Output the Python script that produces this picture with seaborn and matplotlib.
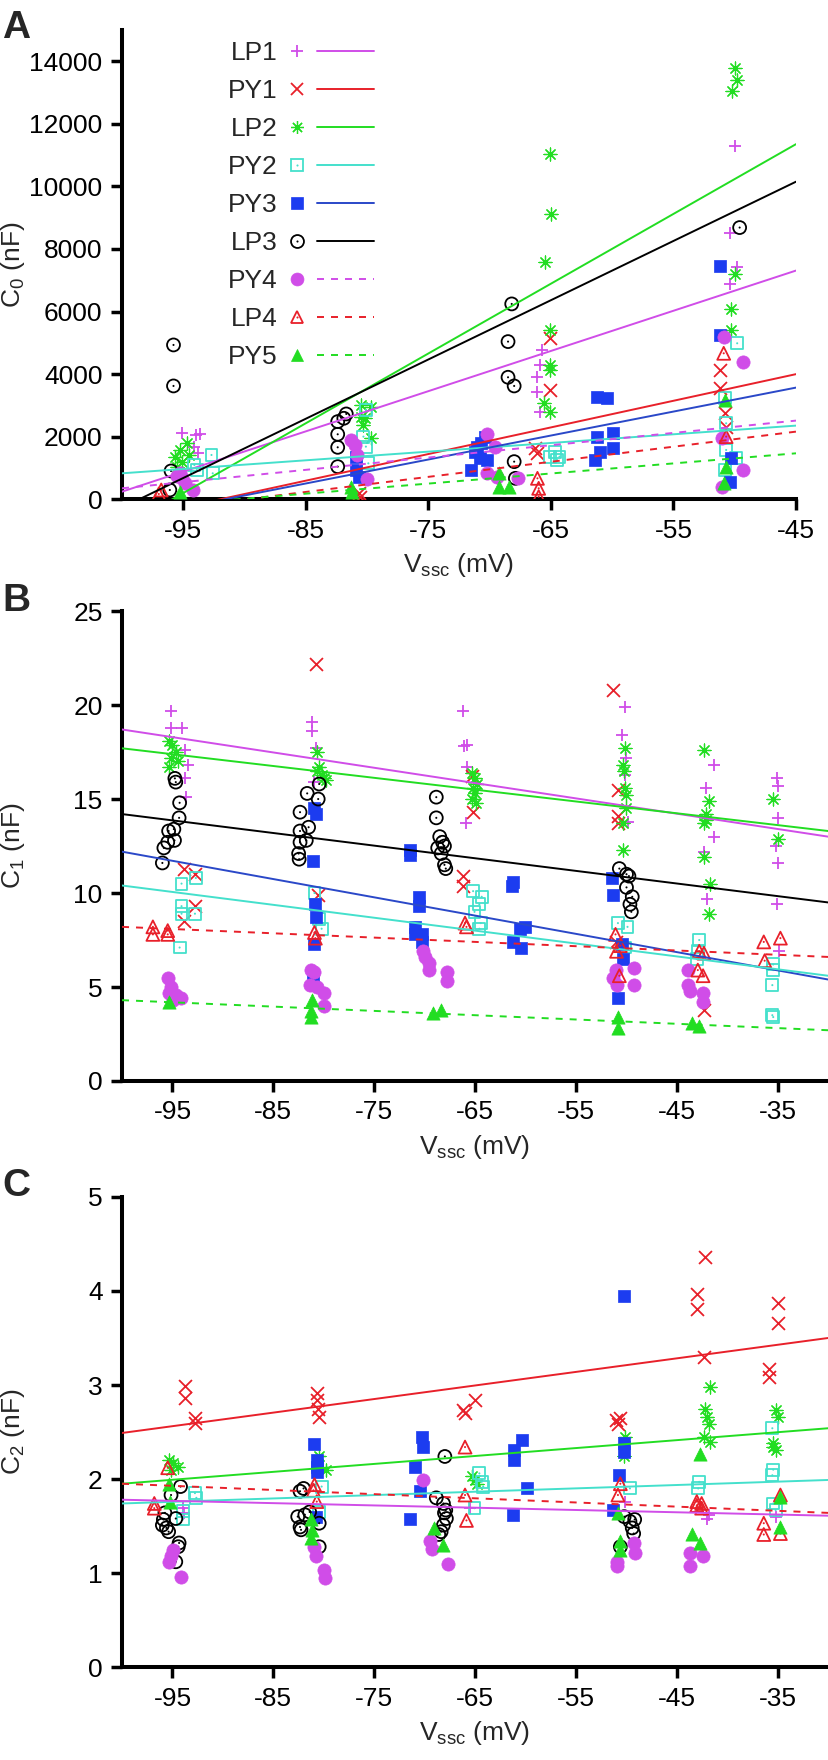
import matplotlib
matplotlib.use("Agg")
import matplotlib.pyplot as plt
import seaborn as sns
from matplotlib.lines import Line2D
from matplotlib.legend_handler import HandlerBase

# ---------------- data ----------------
series_names = ["LP1", "PY1", "LP2", "PY2", "PY3", "LP3", "PY4", "LP4", "PY5"]

# Panel A : C0 (nF) vs Vssc (mV)
A_LP1 = [(-95.1, 2110), (-94.0, 2056), (-93.6, 2078), (-94.1, 1683), (-93.8, 1470),
         (-65.75, 4773), (-65.9, 4294), (-66.1, 3921), (-66.1, 3441), (-65.9, 2802),
         (-50.0, 11306), (-50.4, 8525), (-49.8, 7410), (-50.4, 6879)]
A_PY1 = [(-80.7, 192), (-80.6, 85), (-65.1, 5146), (-65.1, 3495), (-66.1, 1470), (-66.3, 1630),
         (-51.2, 4134), (-51.2, 3548), (-50.8, 2749), (-50.7, 2323)]
A_LP2 = [(-94.7, 1790), (-95.3, 1577), (-95.7, 1364), (-95.1, 1204), (-95.5, 1044), (-94.5, 1417),
         (-80.5, 3015), (-79.7, 2962), (-80.5, 2643), (-80.3, 2376), (-79.7, 1950), (-80.2, 2589),
         (-65.1, 5413), (-65.1, 4294), (-65.1, 4134), (-65.6, 3069), (-65.1, 2802),
         (-65.06, 11041), (-65.0, 9108), (-65.5, 7569),
         (-50.0, 13780), (-49.8, 13408), (-50.2, 13035), (-50.0, 7197), (-50.3, 6073), (-50.3, 5413)]
A_PY2 = [(-94.1, 1097), (-92.7, 1417), (-92.6, 831), (-93.9, 937),
         (-80.1, 2855), (-80.3, 2003), (-80.1, 1684), (-79.9, 1150),
         (-64.7, 1524), (-64.3, 1364), (-65.1, 1364), (-64.5, 1257),
         (-49.8, 4986), (-50.8, 3229), (-50.7, 2429), (-50.7, 1577), (-49.9, 1311), (-50.8, 937)]
A_PY3 = [(-80.9, 1364), (-80.9, 937), (-80.7, 725),
         (-71.5, 937), (-71.05, 1684), (-70.8, 1311), (-70.35, 2003), (-71.2, 1524), (-70.7, 1790), (-70.2, 1257),
         (-61.2, 3282), (-60.4, 3229), (-61.2, 2003), (-59.9, 2110), (-61.4, 1257), (-59.9, 1630), (-61.0, 1524),
         (-51.2, 7462), (-51.2, 5253), (-50.3, 1311), (-50.4, 565)]
A_LP3 = [(-95.8, 4933), (-95.8, 3623), (-96.0, 906), (-96.1, 298),
         (-82.4, 2483), (-82.4, 2078), (-82.4, 1662), (-82.4, 1044), (-81.7, 2728), (-81.9, 2589),
         (-68.2, 6244), (-68.5, 5040), (-68.5, 3900), (-68.0, 3623), (-68.0, 1204), (-67.9, 671),
         (-49.6, 8684)]
A_PY4 = [(-95.3, 831), (-95.1, 671), (-94.9, 511), (-94.2, 298), (-95.5, 750),
         (-81.3, 1897), (-81.0, 1737), (-80.8, 1417), (-80.0, 639),
         (-70.2, 2088), (-69.6, 1684), (-70.2, 831), (-69.4, 725), (-67.7, 671),
         (-50.85, 5200), (-49.3, 4400), (-49.3, 937), (-51.0, 1950), (-51.0, 405)]
A_LP4 = [(-96.8, 298), (-97.0, 170), (-66.1, 671), (-66.0, 352), (-66.0, 85),
         (-50.9, 4666), (-50.7, 2003)]
A_PY5 = [(-95.3, 245), (-81.3, 405), (-81.2, 245), (-69.2, 831), (-69.2, 405), (-68.4, 405),
         (-50.8, 3175), (-50.7, 1044), (-50.85, 511)]

# regression lines of panel A: values at x = -100 and x = -45
A_fit_x = [-100, -45]
A_fit_names = ["LP1", "PY1", "LP2", "PY2", "PY3", "LP3", "PY4", "LP4", "PY5"]
A_fit_y0 = [245, -681, -914, 831, -643, -265, 352, -487, -303]
A_fit_y1 = [7310, 4000, 11350, 2355, 3570, 10150, 2515, 2163, 1470]

# Panel B : C1 (nF)
B_LP1 = [(-95.14, 19.7), (-95.14, 18.8), (-94.05, 18.8), (-93.72, 17.6), (-93.48, 16.8), (-93.72, 16.1), (-93.63, 15.1),
         (-81.16, 19.1), (-81.16, 18.6), (-80.78, 17.7), (-80.92, 15.9),
         (-66.23, 19.7), (-66.09, 17.8), (-65.76, 17.9), (-65.76, 16.7), (-65.85, 13.7),
         (-50.12, 19.9), (-50.45, 18.4), (-50.02, 17.2), (-50.12, 16.3), (-49.88, 13.8),
         (-41.35, 16.8), (-42.06, 15.6), (-41.35, 13.0), (-42.3, 12.2), (-41.97, 9.7),
         (-35.09, 16.1), (-34.95, 15.7), (-34.95, 14.0), (-35.19, 12.5), (-34.95, 11.6), (-35.09, 9.4), (-34.86, 6.9)]
B_PY1 = [(-93.82, 11.3), (-92.77, 11.0), (-92.77, 9.3), (-93.82, 8.5),
         (-80.78, 22.2), (-80.55, 9.9),
         (-65.28, 16.2), (-65.19, 14.3), (-66.23, 10.9), (-66.23, 10.4),
         (-51.3, 20.8), (-50.83, 15.5), (-50.83, 14.1), (-50.83, 13.7), (-51.07, 7.4),
         (-42.3, 3.8)]
B_LP2 = [(-95.38, 18.1), (-95.0, 17.9), (-94.67, 17.5), (-95.14, 17.2), (-94.43, 17.0), (-95.38, 16.7),
         (-80.69, 17.5), (-80.45, 16.7), (-80.21, 16.3), (-79.98, 16.1), (-79.74, 16.0), (-80.69, 16.5),
         (-65.28, 16.4), (-65.05, 16.1), (-64.81, 15.8), (-65.19, 15.6), (-65.05, 15.3), (-65.28, 15.0), (-64.9, 14.8),
         (-50.12, 17.7), (-50.36, 16.8), (-50.21, 16.5), (-50.12, 15.6), (-50.02, 15.2), (-49.98, 14.5), (-50.36, 13.7), (-50.36, 12.3),
         (-42.3, 17.6), (-42.06, 13.9), (-41.83, 14.9), (-42.3, 11.9), (-41.68, 10.5), (-41.83, 8.9), (-42.06, 14.2), (-42.3, 13.7),
         (-35.43, 15.0), (-34.95, 12.9)]
B_PY2 = [(-94.1, 10.5), (-92.68, 10.8), (-94.1, 9.3), (-94.1, 8.9), (-92.77, 8.9), (-94.29, 7.1),
         (-80.92, 10.0), (-80.45, 8.6), (-80.21, 8.1),
         (-65.19, 10.1), (-64.34, 9.8), (-64.57, 9.4), (-65.05, 9.0), (-64.43, 8.4), (-64.57, 8.1),
         (-50.83, 8.4), (-49.88, 8.2), (-50.12, 7.1),
         (-42.77, 7.5), (-42.91, 6.9), (-43.01, 6.5),
         (-35.43, 6.2), (-35.43, 5.9), (-35.52, 5.1), (-35.52, 3.5), (-35.43, 3.4)]
B_PY3 = [(-80.78, 14.2), (-80.92, 14.5), (-81.02, 11.7), (-80.83, 9.4), (-80.78, 8.7), (-80.92, 7.3), (-81.02, 5.5),
         (-71.45, 12.3), (-71.45, 12.0), (-70.6, 9.8), (-70.6, 9.3), (-70.97, 8.2), (-70.97, 7.8), (-70.26, 7.8), (-70.26, 7.4),
         (-61.35, 10.4), (-61.26, 10.6), (-60.07, 8.2), (-60.55, 8.1), (-61.26, 7.4), (-60.45, 7.1),
         (-51.45, 10.8), (-51.3, 9.9), (-50.45, 7.3), (-50.36, 6.5), (-50.83, 4.4)]
B_LP3 = [(-94.76, 16.1), (-94.67, 15.9), (-94.29, 14.8), (-94.34, 14.0), (-94.86, 13.4), (-95.38, 13.3), (-94.8, 12.8),
         (-95.47, 12.7), (-95.85, 12.4), (-96.0, 11.6),
         (-82.35, 14.3), (-81.64, 15.3), (-80.45, 15.8), (-80.55, 15.0), (-82.35, 13.3), (-81.5, 13.5), (-81.73, 12.8),
         (-82.35, 12.7), (-82.49, 12.1), (-82.44, 11.8),
         (-68.84, 15.1), (-68.84, 14.0), (-68.5, 13.0), (-68.22, 12.7), (-68.03, 12.5), (-68.7, 12.4), (-68.36, 12.1),
         (-68.03, 11.5), (-67.9, 11.3),
         (-50.69, 11.3), (-49.98, 11.0), (-49.74, 10.9), (-49.98, 10.3), (-49.41, 9.8), (-49.64, 9.4), (-49.5, 9.0)]
B_PY4 = [(-95.47, 5.5), (-95.14, 5.0), (-95.38, 4.7), (-94.67, 4.6), (-94.2, 4.4), (-94.9, 4.3),
         (-81.26, 5.9), (-80.92, 5.8), (-81.4, 5.1), (-80.69, 5.0), (-79.98, 4.7), (-79.98, 4.0),
         (-70.12, 6.9), (-69.93, 6.6), (-69.55, 6.3), (-69.55, 5.9), (-67.75, 5.8), (-67.75, 5.3),
         (-51.07, 5.9), (-50.97, 5.1), (-49.27, 6.0), (-49.27, 5.1), (-51.3, 5.5),
         (-43.86, 5.9), (-43.86, 5.1), (-43.72, 4.8), (-42.44, 4.7), (-42.44, 4.2)]
B_LP4 = [(-96.94, 8.2), (-96.94, 7.8), (-95.47, 8.0), (-95.47, 7.8),
         (-80.92, 7.9), (-80.83, 7.6), (-65.99, 8.4), (-65.85, 8.2),
         (-51.07, 7.8), (-50.97, 6.9), (-50.59, 7.2), (-50.69, 5.6),
         (-42.77, 6.9), (-42.3, 6.8), (-42.91, 5.9), (-42.39, 5.6),
         (-36.37, 7.4), (-34.72, 7.6), (-36.28, 6.4)]
B_PY5 = [(-95.38, 4.2), (-81.16, 4.3), (-81.26, 3.7), (-81.26, 3.4), (-69.17, 3.6), (-68.36, 3.8),
         (-50.83, 3.4), (-50.83, 2.8), (-43.48, 3.1), (-42.77, 2.9)]

B_fit_x = [-100, -30]
B_fit_names = ["LP1", "LP2", "LP3", "PY3", "PY2", "LP4", "PY5"]
B_fit_y0 = [18.7, 17.7, 14.2, 12.2, 10.4, 8.2, 4.3]
B_fit_y1 = [13.0, 13.3, 9.5, 5.4, 5.6, 6.6, 2.7]

# Panel C : C2 (nF)
C_LP1 = [(-93.96, 1.69), (-93.87, 1.64), (-65.52, 1.69), (-50.12, 1.76), (-41.83, 1.62), (-41.97, 1.58), (-35.19, 1.60)]
C_PY1 = [(-93.72, 2.99), (-93.72, 2.86), (-92.77, 2.65), (-92.77, 2.60),
         (-80.69, 2.91), (-80.69, 2.84), (-80.55, 2.75), (-80.45, 2.66),
         (-66.23, 2.73), (-65.99, 2.70), (-65.05, 2.84),
         (-51.07, 2.63), (-50.83, 2.59), (-50.59, 2.65),
         (-43.01, 3.97), (-43.01, 3.81), (-42.16, 4.36), (-42.3, 3.30),
         (-34.95, 3.87), (-34.95, 3.66), (-35.9, 3.17), (-35.9, 3.09)]
C_LP2 = [(-95.38, 2.20), (-94.9, 2.17), (-94.43, 2.13), (-95.14, 2.10),
         (-79.74, 2.10), (-80.45, 2.24),
         (-65.28, 2.03), (-65.05, 1.99), (-64.81, 1.95),
         (-50.12, 2.45), (-50.21, 2.24),
         (-41.68, 2.98), (-42.16, 2.75), (-41.97, 2.66), (-41.83, 2.59), (-42.3, 2.45), (-41.68, 2.39),
         (-35.19, 2.73), (-34.95, 2.66), (-35.43, 2.38), (-35.19, 2.31), (-35.43, 2.34)]
C_PY2 = [(-92.77, 1.85), (-92.63, 1.80), (-93.96, 1.57), (-93.96, 1.66),
         (-80.21, 1.92), (-80.45, 1.65),
         (-64.57, 2.06), (-64.34, 1.97), (-64.19, 1.92), (-65.05, 1.69),
         (-49.64, 1.90), (-42.77, 1.97), (-42.87, 1.90),
         (-35.52, 2.54), (-35.43, 2.10), (-35.52, 2.04), (-35.43, 1.74), (-35.19, 1.67)]
C_PY3 = [(-80.92, 2.37), (-80.69, 2.20), (-80.69, 2.13), (-80.69, 2.08), (-80.78, 1.60),
         (-70.26, 2.45), (-70.12, 2.34), (-70.97, 2.13), (-70.5, 1.87), (-71.45, 1.58),
         (-61.11, 2.31), (-61.11, 2.20), (-60.31, 2.41), (-59.83, 1.90), (-61.26, 1.62),
         (-50.27, 3.95), (-50.69, 2.04), (-50.21, 2.38), (-50.21, 2.29), (-51.3, 1.67)]
C_LP3 = [(-94.2, 1.92), (-95.14, 1.83), (-95.75, 1.64), (-95.9, 1.57), (-96.0, 1.51), (-95.6, 1.48), (-95.38, 1.44),
         (-94.67, 1.58), (-94.34, 1.32), (-94.43, 1.28), (-94.67, 1.12),
         (-82.35, 1.87), (-82.0, 1.90), (-82.58, 1.60), (-82.35, 1.49), (-81.87, 1.62), (-81.4, 1.65), (-80.45, 1.53),
         (-80.45, 1.28), (-82.25, 1.46),
         (-67.99, 2.24), (-68.84, 1.80), (-68.13, 1.74), (-67.9, 1.67), (-68.03, 1.64), (-67.84, 1.58), (-68.13, 1.51),
         (-68.36, 1.44), (-68.6, 1.41),
         (-50.21, 1.60), (-49.64, 1.55), (-49.41, 1.48), (-49.27, 1.42), (-50.59, 1.28), (-49.17, 1.57)]
C_PY4 = [(-94.9, 1.25), (-95.14, 1.18), (-95.38, 1.12), (-94.2, 0.96),
         (-80.92, 1.28), (-80.78, 1.18), (-79.98, 1.03), (-79.88, 0.95),
         (-70.12, 1.99), (-69.45, 1.34), (-69.31, 1.26), (-67.65, 1.10),
         (-49.27, 1.32), (-49.17, 1.21), (-50.97, 1.12), (-50.97, 1.07),
         (-43.72, 1.21), (-43.72, 1.07), (-42.39, 1.18)]
C_LP4 = [(-95.47, 2.12), (-96.8, 1.74), (-96.8, 1.69),
         (-80.92, 1.94), (-81.02, 1.88), (-80.69, 1.76),
         (-65.99, 2.34), (-65.99, 1.83), (-65.85, 1.56),
         (-50.59, 1.95), (-50.83, 1.83),
         (-43.01, 1.76), (-42.53, 1.74), (-42.53, 1.69), (-43.01, 1.72),
         (-34.72, 1.83), (-36.37, 1.53), (-36.37, 1.41), (-34.72, 1.42)]
C_PY5 = [(-95.38, 1.95), (-95.24, 1.76),
         (-81.26, 1.57), (-81.16, 1.46), (-81.26, 1.37),
         (-69.08, 1.48), (-68.22, 1.30),
         (-50.83, 1.64), (-50.59, 1.34), (-50.59, 1.25),
         (-42.68, 2.27), (-43.48, 1.42), (-42.68, 1.32),
         (-34.72, 1.81), (-34.72, 1.49)]

C_fit_x = [-100, -30]
C_fit_names = ["PY1", "LP2", "PY2", "LP4", "LP1"]
C_fit_y0 = [2.49, 1.95, 1.74, 1.95, 1.78]
C_fit_y1 = [3.50, 2.54, 1.99, 1.64, 1.61]

# ---------------- styles ----------------
VIOLET = "#D04DE8"
RED = "#E8202A"
GREEN = "#22DD22"
CYAN = "#44E0CC"
BLUE = "#1C3CF0"
BLUE_LINE = "#2A48C8"
STY = {
    "LP1": dict(c=VIOLET, m="+", kind="line", ls="-", lc=VIOLET, lw=1.3),
    "PY1": dict(c=RED, m="x", kind="line", ls="-", lc=RED, lw=1.3),
    "LP2": dict(c=GREEN, m=(8, 2, 0), kind="line", ls="-", lc=GREEN, lw=0.9),
    "PY2": dict(c=CYAN, m="s", kind="open", ls="-", lc=CYAN),
    "PY3": dict(c=BLUE, m="s", kind="fill", ls="-", lc=BLUE_LINE),
    "LP3": dict(c="black", m="o", kind="open", ls="-", lc="black"),
    "PY4": dict(c=VIOLET, m="o", kind="fill", ls="--", lc=VIOLET),
    "LP4": dict(c=RED, m="^", kind="open", ls="--", lc=RED),
    "PY5": dict(c=GREEN, m="^", kind="fill", ls="--", lc=GREEN),
}
MS = 9.3          # marker size in points
S = MS ** 2
LW = 1.4
DASH = (3.6, 3.6)

sns.set_theme(style="ticks")
plt.rcParams["font.family"] = ["Liberation Sans", "DejaVu Sans"]
plt.rcParams["mathtext.fontset"] = "custom"
plt.rcParams["mathtext.rm"] = "Liberation Sans"
plt.rcParams["mathtext.it"] = "Liberation Sans:italic"
plt.rcParams["axes.unicode_minus"] = False

FS = 19

fig = plt.figure(figsize=(8.29, 17.6), dpi=100)
axA = fig.add_axes([0.1472, 0.7163, 0.9602 - 0.1472, 0.983 - 0.7163])
axB = fig.add_axes([0.1472, 0.3858, 0.9988 - 0.1472, 0.6528 - 0.3858])
axC = fig.add_axes([0.1472, 0.0528, 0.9988 - 0.1472, 0.3199 - 0.0528])


def draw_series(ax, pts, name):
    st = STY[name]
    xs = [p[0] for p in pts]
    ys = [p[1] for p in pts]
    if st["kind"] == "line":
        sns.scatterplot(x=xs, y=ys, ax=ax, marker=st["m"], s=S, color=st["c"],
                        linewidth=st["lw"], legend=False, zorder=3)
    elif st["kind"] == "open":
        sns.scatterplot(x=xs, y=ys, ax=ax, marker=st["m"], s=S * (0.85 if st["m"] == "s" else 1.0),
                        color=st["c"], facecolor="none", edgecolor=st["c"],
                        linewidth=1.3, legend=False, zorder=3)
        sns.scatterplot(x=xs, y=ys, ax=ax, marker="o", s=2.2, color=st["c"],
                        edgecolor="none", linewidth=0, legend=False, zorder=3)
    else:
        sns.scatterplot(x=xs, y=ys, ax=ax, marker=st["m"], s=S * (0.8 if st["m"] == "s" else 1.05),
                        color=st["c"], edgecolor=st["c"], linewidth=0.5,
                        legend=False, zorder=3)


def draw_fits(ax, xr, names, y0, y1):
    for n, a, b in zip(names, y0, y1):
        st = STY[n]
        ln, = ax.plot(xr, [a, b], color=st["lc"], lw=LW, zorder=4)
        if st["ls"] == "--":
            ln.set_dashes(DASH)


panels = [
    (axA, [A_LP1, A_PY1, A_LP2, A_PY2, A_PY3, A_LP3, A_PY4, A_LP4, A_PY5],
     A_fit_x, A_fit_names, A_fit_y0, A_fit_y1),
    (axB, [B_LP1, B_PY1, B_LP2, B_PY2, B_PY3, B_LP3, B_PY4, B_LP4, B_PY5],
     B_fit_x, B_fit_names, B_fit_y0, B_fit_y1),
    (axC, [C_LP1, C_PY1, C_LP2, C_PY2, C_PY3, C_LP3, C_PY4, C_LP4, C_PY5],
     C_fit_x, C_fit_names, C_fit_y0, C_fit_y1),
]
for ax, plist, fx, fn, f0, f1 in panels:
    for name, pts in zip(series_names, plist):
        draw_series(ax, pts, name)
    draw_fits(ax, fx, fn, f0, f1)

# axes formatting
axA.set_xlim(-100, -45)
axA.set_ylim(0, 15000)
axA.set_xticks([-95, -85, -75, -65, -55, -45])
axA.set_yticks(range(0, 14001, 2000))
axB.set_xlim(-100, -30)
axB.set_ylim(0, 25)
axB.set_xticks([-95, -85, -75, -65, -55, -45, -35])
axB.set_yticks([0, 5, 10, 15, 20, 25])
axC.set_xlim(-100, -30)
axC.set_ylim(0, 5)
axC.set_xticks([-95, -85, -75, -65, -55, -45, -35])
axC.set_yticks([0, 1, 2, 3, 4, 5])

ylabels = [r"C$_\mathregular{0}$ (nF)", r"C$_\mathregular{1}$ (nF)", r"C$_\mathregular{2}$ (nF)"]
for ax, yl in zip([axA, axB, axC], ylabels):
    sns.despine(ax=ax)
    for sp in ["left", "bottom"]:
        ax.spines[sp].set_linewidth(2.9)
        ax.spines[sp].set_color("black")
        ax.spines[sp].set_capstyle("projecting")
    ax.tick_params(axis="both", direction="out", length=8, width=2.5, colors="black",
                   labelsize=FS, pad=6)
    ax.set_xlabel(r"V$_\mathregular{ssc}$ (mV)", fontsize=FS)
    ax.set_ylabel(yl, fontsize=FS)
    w_px = ax.get_position().width * 829
    h_px = ax.get_position().height * 1760
    ax.yaxis.set_label_coords(-(122 - 27) / w_px, 0.5)
    ax.xaxis.set_label_coords(0.5, -52 / h_px)
    ax.grid(False)
    ax.set_facecolor("white")

# panel letters
fig.text(0.003, 1 - 38 / 1760, "A", fontsize=28, fontweight="bold", va="baseline")
fig.text(0.003, 1 - 611 / 1760, "B", fontsize=28, fontweight="bold", va="baseline")
fig.text(0.003, 1 - 1196 / 1760, "C", fontsize=28, fontweight="bold", va="baseline")


# legend: label, marker, then line sample
class MarkerThenLine(HandlerBase):
    def create_artists(self, legend, orig_handle, xdescent, ydescent, width, height, fontsize, trans):
        st = STY[orig_handle.get_label()]
        y = height / 2 - ydescent
        x0 = -xdescent
        arts = []
        xm = x0 + 0.09 * width
        if st["kind"] == "open":
            m = Line2D([xm], [y], linestyle="none", marker=st["m"], markersize=MS * (0.92 if st["m"] == "s" else 1.0),
                       mfc="none", mec=st["c"], mew=1.3, transform=trans)
            d = Line2D([xm], [y], linestyle="none", marker="o", markersize=1.5, mfc=st["c"],
                       mec="none", transform=trans)
            arts += [m, d]
        elif st["kind"] == "line":
            m = Line2D([xm], [y], linestyle="none", marker=st["m"], markersize=MS, color=st["c"],
                       mew=st["lw"], transform=trans)
            arts.append(m)
        else:
            m = Line2D([xm], [y], linestyle="none", marker=st["m"], markersize=MS * (0.9 if st["m"] == "s" else 1.0),
                       mfc=st["c"], mec=st["c"], mew=0.5, transform=trans)
            arts.append(m)
        ln = Line2D([x0 + 0.32 * width, x0 + width], [y, y], color=st["lc"], lw=LW, transform=trans)
        if st["ls"] == "--":
            ln.set_dashes(DASH)
        arts.append(ln)
        return arts


handles = [Line2D([], [], label=n) for n in series_names]
leg = axA.legend(handles=handles, labels=series_names, handler_map={Line2D: MarkerThenLine()},
                 loc="upper left", bbox_to_anchor=(228 / 829, 1 - 41 / 1760),
                 bbox_transform=fig.transFigure, frameon=False, markerfirst=False,
                 fontsize=FS, handlelength=3.2, handletextpad=0.45, labelspacing=0.53,
                 borderpad=0, borderaxespad=0)

fig.savefig("out.png", dpi=100, facecolor="white")
